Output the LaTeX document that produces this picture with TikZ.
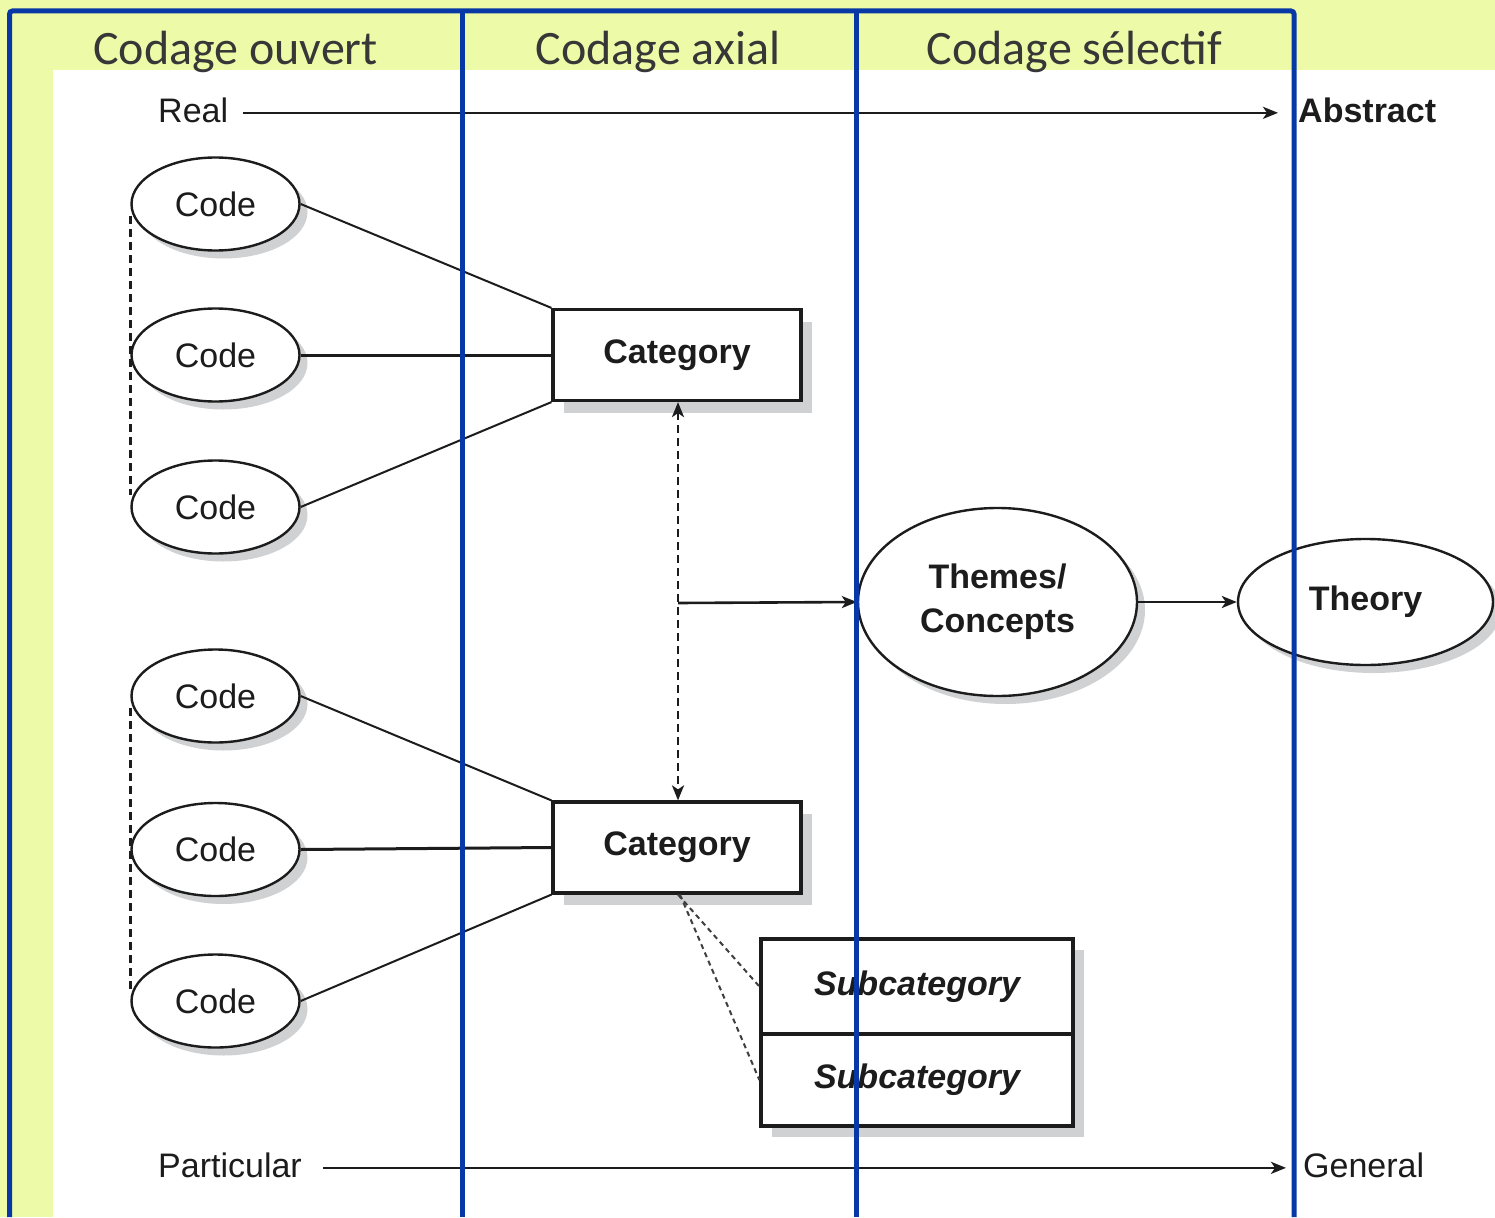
\documentclass[tikz,border=0pt]{standalone}
\usepackage{fontspec}
\setmainfont{Liberation Sans}
\newfontfamily\titlefont{Carlito}
\usetikzlibrary{shapes.geometric,arrows.meta,shadows}
\definecolor{bgyellow}{RGB}{237,251,168}
\definecolor{frameblue}{RGB}{8,56,166}
\definecolor{shadowgray}{RGB}{208,209,211}
\definecolor{ink}{RGB}{28,28,28}
\definecolor{titleink}{RGB}{55,55,55}
\begin{document}
\begin{tikzpicture}[x=1pt,y=-1pt,
  diag/.style={font=\fontsize{34}{40}\selectfont, text=ink},
  bdiag/.style={font=\fontsize{34}{40}\selectfont\bfseries, text=ink},
  codeell/.style={ellipse, draw=ink, line width=2.4pt, fill=white,
    minimum width=168pt, minimum height=93pt, inner sep=0pt, diag,
    drop shadow={shadow xshift=8pt, shadow yshift=-8pt, fill=shadowgray, opacity=1}},
  bigell/.style={ellipse, draw=ink, line width=2.4pt, fill=white, inner sep=0pt, bdiag,
    align=center,
    drop shadow={shadow xshift=8pt, shadow yshift=-8pt, fill=shadowgray, opacity=1}},
  catbox/.style={rectangle, draw=ink, line width=3.2pt, fill=white,
    minimum width=248pt, minimum height=91pt, inner sep=0pt, bdiag,
    drop shadow={shadow xshift=11pt, shadow yshift=-12pt, fill=shadowgray, opacity=1}},
  subbox/.style={rectangle, draw=ink, line width=3.2pt, fill=white,
    minimum width=312pt, inner sep=0pt, font=\fontsize{34}{40}\selectfont\bfseries\itshape, text=ink,
    drop shadow={shadow xshift=11pt, shadow yshift=-11pt, fill=shadowgray, opacity=1}},
  lbl/.style={diag, inner sep=0pt, anchor=base west},
  ttl/.style={font=\titlefont\fontsize{48}{56}\selectfont, text=titleink, inner sep=0pt, anchor=base},
  arr/.style={draw=ink, line width=2.6pt, -{Stealth[length=15pt,width=12pt,inset=4pt]}},
  conn/.style={draw=ink, line width=2pt},
  hconn/.style={draw=ink, line width=3pt},
  dashv/.style={draw=ink, line width=2.6pt, dash pattern=on 8pt off 5pt},
  dasht/.style={draw=ink!85, line width=2pt, dash pattern=on 5pt off 4pt},
  blueln/.style={draw=frameblue, line width=5pt}
]
\useasboundingbox (0,0) rectangle (1495,1217);
\fill[bgyellow] (0,0) rectangle (1495,1217);
\fill[white] (53,70) rectangle (1495,1217);

% titles
\node[ttl] (t1) at (235.5,65) {Codage ouvert};
\node[ttl] (t2) at (658,65) {Codage axial};
\node[ttl] (t3) at (1074.5,65) {Codage sélectif};

% axis labels
\node[lbl] (real) at (158,123) {Real};
\node[lbl, bdiag] (abstract) at (1298,123) {Abstract};
\node[lbl] (particular) at (158,1177) {Particular};
\node[lbl] (general) at (1303,1177) {General};
\draw[arr] ([xshift=15pt,yshift=-2pt]real.east) -- ([xshift=-20pt,yshift=-2pt]abstract.west);
\draw[arr] ([xshift=21pt,yshift=-3pt]particular.east) -- ([xshift=-17pt,yshift=-3pt]general.west);

% codes
\node[codeell] (c1) at (215.5,204) {Code};
\node[codeell] (c2) at (215.5,355) {Code};
\node[codeell] (c3) at (215.5,507) {Code};
\node[codeell] (c4) at (215.5,696) {Code};
\node[codeell] (c5) at (215.5,849.5) {Code};
\node[codeell] (c6) at (215.5,1001) {Code};

% categories
\node[catbox] (cat1) at (677,355) {Category};
\node[catbox] (cat2) at (677,847.5) {Category};

% themes and theory
\node[bigell, minimum width=279pt, minimum height=188pt] (themes) at (997.5,602) {Themes/\\[4pt]Concepts};
\node[bigell, minimum width=255pt, minimum height=126pt] (theory) at (1365.5,602) {Theory};

% subcategories
\node[subbox, minimum height=95pt] (sub1) at (917,986.5) {Subcategory};
\node[subbox, minimum height=92pt] (sub2) at (917,1080) {Subcategory};

% dashed verticals between codes
\draw[dashv] ([yshift=-12pt]c1.west) -- ([yshift=12pt]c3.west);
\draw[dashv] ([yshift=-12pt]c4.west) -- ([yshift=12pt]c6.west);

% code to category lines
\draw[conn] (c1.east) -- (cat1.north west);
\draw[hconn] (c2.east) -- (cat1.west);
\draw[conn] (c3.east) -- (cat1.south west);
\draw[conn] (c4.east) -- (cat2.north west);
\draw[hconn] (c5.east) -- (cat2.west);
\draw[conn] (c6.east) -- (cat2.south west);

% category link
\draw[dashv, {Stealth[length=15pt,width=12pt,inset=4pt]}-{Stealth[length=15pt,width=12pt,inset=4pt]}]
  ([xshift=1pt]cat1.south) -- ([xshift=1pt]cat2.north);
\coordinate (mid) at (678,603);
\draw[arr] (mid) -- (themes.west);
\draw[arr] (themes.east) -- (theory.west);

% subcategory links
\draw[dasht] ([xshift=1pt]cat2.south) -- (sub1.west);
\draw[dasht] ([xshift=3pt]cat2.south) -- (sub2.west);

% blue frame
\draw[blueln, rounded corners=3pt] (9.5,1217) -- (9.5,11) -- (1294,11) -- (1294,1217);
\draw[blueln] (462.5,11) -- (462.5,1217);
\draw[blueln] (856,11) -- (856,1217);
\end{tikzpicture}
\end{document}
